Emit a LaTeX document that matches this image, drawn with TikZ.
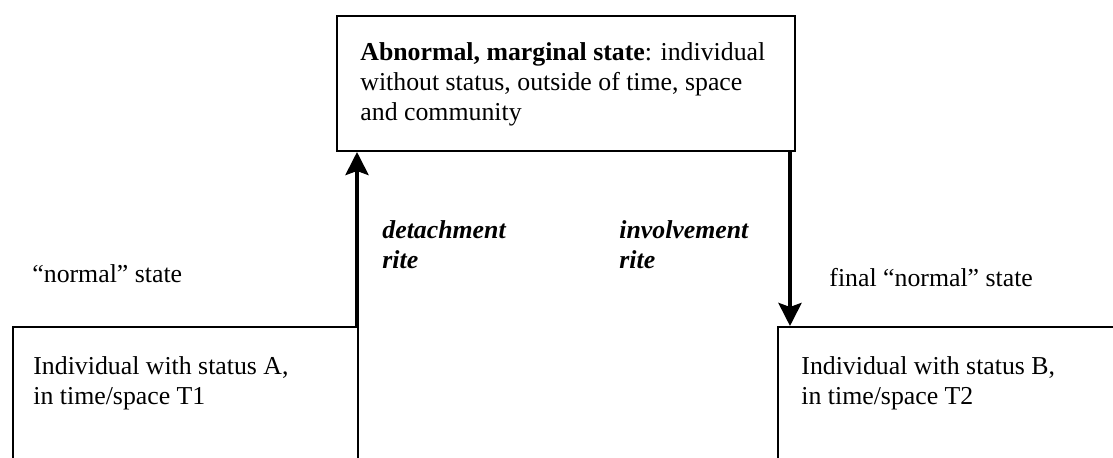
\documentclass[tikz,border=0pt]{standalone}
\usepackage{fontspec}
\setmainfont{Liberation Serif}
\usetikzlibrary{arrows.meta,positioning}
\newcommand{\bi}[1]{\textbf{\textit{#1}}}

\begin{document}
\begin{tikzpicture}[x=0.5pt,y=-0.5pt,
    box/.style={draw,line width=1pt,inner sep=0pt},
    txt/.style={inner sep=0pt,align=left,font=\fontsize{12.9}{15}\selectfont},
    rite/.style={line width=2pt,-{Stealth[length=11.5pt,width=11.5pt,inset=2pt]}}]
  \useasboundingbox (0,0) rectangle (1113,458);
  \clip (0,0) rectangle (1113,458);
  \node[box,anchor=north west,minimum width=229pt,minimum height=67.5pt] (marg) at (336,15) {};
  \node[box,anchor=north west,minimum width=172.5pt,minimum height=100pt] (lbox) at (12,326) {};
  \node[box,anchor=north west,minimum width=200pt,minimum height=100pt] (rbox) at (777,326) {};
  \node[txt,anchor=north west] (margtxt) at (360,42) {\textbf{Abnormal, marginal state}: individual\\without status, outside of time, space\\and community};
  \node[txt,anchor=north west] (ltxt) at (33,356) {Individual with status A,\\in time/space T1};
  \node[txt,anchor=north west] (rtxt) at (801,356) {Individual with status B,\\in time/space T2};
  \node[txt,anchor=base west] (lstate) at (32,283) {“normal” state};
  \node[txt,anchor=base west] (rstate) at (829,287) {final “normal” state};
  \node[txt,anchor=north west] (detach) at (382,220) {\bi{detachment}\\\bi{rite}};
  \node[txt,anchor=north west] (involve) at (619,220) {\bi{involvement}\\\bi{rite}};
  \draw[rite] ([xshift=-1pt]lbox.north east) -- ([xshift=-1pt]lbox.north east |- marg.south);
  \draw[rite] ([xshift=-3pt]marg.south east) -- ([xshift=-3pt]marg.south east |- rbox.north);
\end{tikzpicture}
\end{document}
